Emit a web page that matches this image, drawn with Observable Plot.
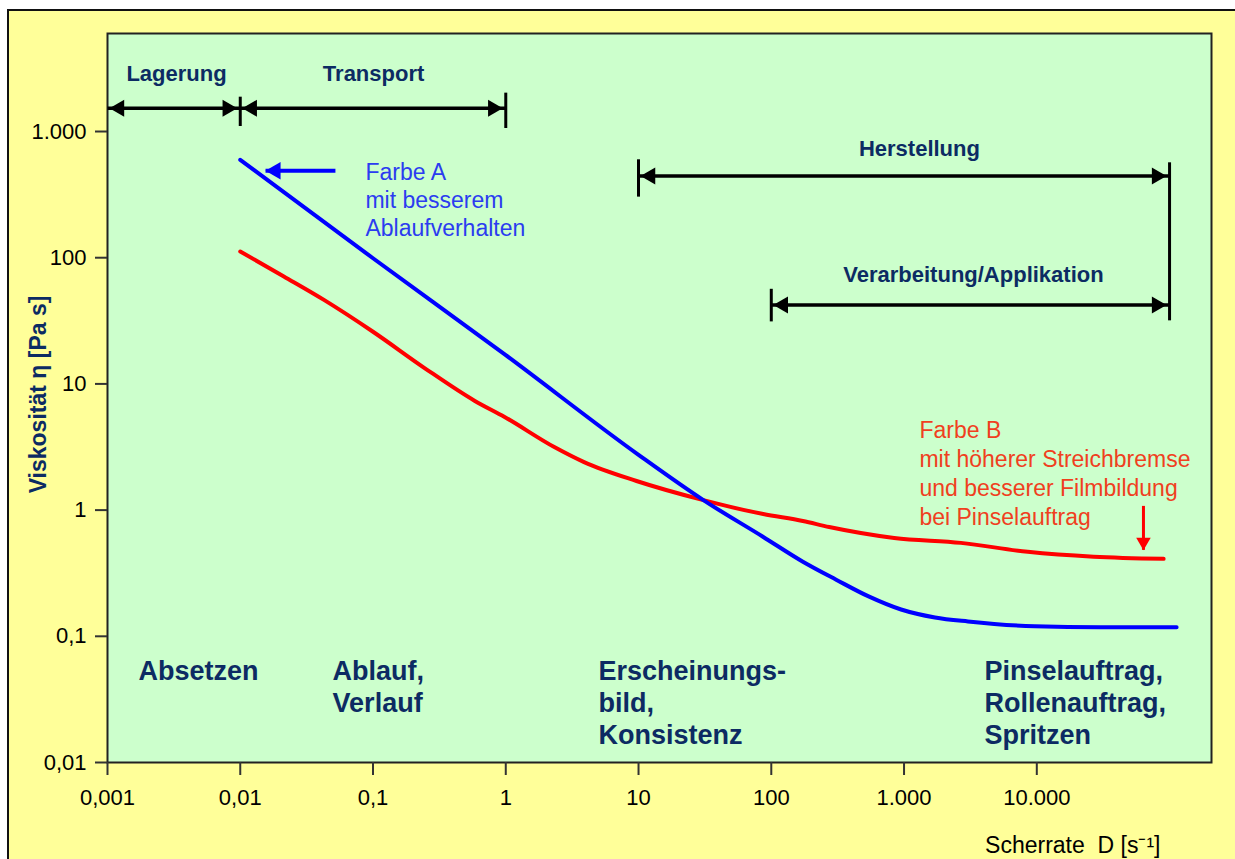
<!DOCTYPE html>
<html><head><meta charset="utf-8">
<script src="https://cdn.jsdelivr.net/npm/d3@7"></script>
<script src="https://cdn.jsdelivr.net/npm/@observablehq/plot@0.6"></script>
<style>
html,body{margin:0;padding:0;background:#fff;}
#wrap{position:relative;width:1235px;height:859px;overflow:hidden;}
#bg{position:absolute;left:7px;top:9px;right:0;bottom:0;background:#FFFF99;border-left:2px solid #111;border-top:2px solid #111;}
#chart{position:absolute;left:0;top:0;}
</style></head><body>
<div id="wrap"><div id="bg"></div><div id="chart"></div></div>
<script>
// ---- axes ----
const xTicks = [0.001, 0.01, 0.1, 1, 10, 100, 1000, 10000];
const xTickLabels = ["0,001", "0,01", "0,1", "1", "10", "100", "1.000", "10.000"];
const yTicks = [0.01, 0.1, 1, 10, 100, 1000];
const yTickLabels = ["0,01", "0,1", "1", "10", "100", "1.000"];
const xDomain = [0.001, 207000];
const yDomain = [0.01, 5980];

// ---- Farbe A (blue) ----
const shearRateA = [0.01, 0.1, 1, 10, 30.8, 87, 173, 308, 541, 950, 1710, 3030, 9660, 30300, 113000];
const viscosityA = [597, 99, 16.9, 2.74, 1.2, 0.613, 0.39, 0.281, 0.207, 0.163, 0.141, 0.131, 0.12, 0.118, 0.118];

// ---- Farbe B (red) ----
const shearRateB = [0.01, 0.0213, 0.043, 0.1, 0.246, 0.585, 0.98, 2.32, 3.89, 9.66, 30.8, 87, 173, 273, 843, 2680, 8550, 26800, 90200];
const viscosityB = [112, 71, 46.1, 25.9, 13.3, 7.33, 5.47, 3.16, 2.4, 1.7, 1.2, 0.93, 0.82, 0.735, 0.602, 0.55, 0.467, 0.427, 0.411];

// ---- process ranges (top) ----
const rangeLabels = ["Lagerung", "Transport", "Herstellung", "Verarbeitung/Applikation"];
const rangeFrom = [0.001, 0.01, 10, 100];
const rangeTo = [0.01, 1, 100000, 100000];
const rangeLevel = [1528, 1528, 445, 42.2];
const rangeLabelX = [0.00331, 0.101, 1306, 3334];
const rangeLabelY = [2512, 2512, 643, 63.8];
const barX = [0.01, 1, 10, 100000, 100];
const barTop = [1871, 2014, 597, 565, 56.2];
const barBottom = [1096, 1057, 302, 31.6, 31];

// ---- application regions (bottom) ----
const regionLabels = ["Absetzen", "Ablauf,\nVerlauf", "Erscheinungs-\nbild,\nKonsistenz", "Pinselauftrag,\nRollenauftrag,\nSpritzen"];
const regionX = [0.00171, 0.0496, 4.99, 4036];
const regionY = 0.0676;

// ---- callouts ----
const calloutA = "Farbe A\nmit besserem\nAblaufverhalten";
const calloutAPos = [0.0877, 592];
const arrowA = {x1: 0.0155, x2: 0.0521, y: 488};
const calloutB = "Farbe B\nmit höherer Streichbremse\nund besserer Filmbildung\nbei Pinselauftrag";
const calloutBPos = [1306, 5.38];
const arrowB = {x: 63600, y1: 1.08, y2: 0.484};

const navy = "#0c2b63";
const seriesA = shearRateA.map((x, i) => ({x, y: viscosityA[i]}));
const seriesB = shearRateB.map((x, i) => ({x, y: viscosityB[i]}));
const ranges = rangeLabels.map((label, i) => ({label, x1: rangeFrom[i], x2: rangeTo[i], y: rangeLevel[i], lx: rangeLabelX[i], ly: rangeLabelY[i]}));
const bars = barX.map((x, i) => ({x, y1: barTop[i], y2: barBottom[i]}));
const regions = regionLabels.map((label, i) => ({label, x: regionX[i], y: regionY}));

const headR = 6.3, headTip = 9.8, gap = 2;
const font = "'Liberation Sans', Arial, sans-serif";

const chart = Plot.plot({
  width: 1235, height: 859,
  marginLeft: 107, marginRight: 24, marginTop: 33, marginBottom: 97,
  style: {background: "transparent", fontFamily: font, overflow: "visible"},
  x: {type: "log", domain: xDomain},
  y: {type: "log", domain: yDomain},
  marks: [
    Plot.frame({fill: "#CCFFCC", stroke: "#222", strokeWidth: 2}),
    Plot.axisX({ticks: xTicks, tickFormat: d => xTickLabels[xTicks.indexOf(d)], tickSize: 13, tickPadding: 14, fontSize: 22, stroke: "#333", strokeWidth: 2, color: "black", label: null, textStroke: "none"}),
    Plot.axisY({ticks: yTicks, tickFormat: d => yTickLabels[yTicks.indexOf(d)], tickSize: 12, tickPadding: 9, fontSize: 22, stroke: "#333", strokeWidth: 2, color: "black", label: null}),
    // range arrows
    Plot.link(ranges, {x1: "x1", x2: "x2", y1: "y", y2: "y", stroke: "black", strokeWidth: 3.5}),
    Plot.dot(ranges, {x: "x1", y: "y", symbol: "triangle", r: headR, fill: "black", rotate: -90, dx: headTip + gap}),
    Plot.dot(ranges, {x: "x2", y: "y", symbol: "triangle", r: headR, fill: "black", rotate: 90, dx: -(headTip + gap + 1)}),
    Plot.ruleX(bars, {x: "x", y1: "y1", y2: "y2", stroke: "black", strokeWidth: 3}),
    Plot.text(ranges, {x: "lx", y: "ly", text: "label", lineAnchor: "bottom", fontSize: 22, fontWeight: "bold", fill: navy}),
    // curves
    Plot.line(seriesB, {x: "x", y: "y", stroke: "#FF0000", strokeWidth: 4, curve: "monotone-x"}),
    Plot.line(seriesA, {x: "x", y: "y", stroke: "#0000FF", strokeWidth: 4, curve: "monotone-x"}),
    // callout A
    Plot.link([arrowA], {x1: "x1", x2: "x2", y1: "y", y2: "y", stroke: "#0000FF", strokeWidth: 4}),
    Plot.dot([arrowA], {x: "x1", y: "y", symbol: "triangle", r: 6.5, fill: "#0000FF", rotate: -90, dx: 10}),
    Plot.text([calloutA], {x: calloutAPos[0], y: calloutAPos[1], text: d => d, textAnchor: "start", lineAnchor: "top", lineHeight: 1.22, fontSize: 23, fill: "#2b3cf0"}),
    // callout B
    Plot.link([arrowB], {x1: "x", x2: "x", y1: "y1", y2: "y2", stroke: "#FF0000", strokeWidth: 3}),
    Plot.dot([arrowB], {x: "x", y: "y2", symbol: "triangle", r: 5.4, fill: "#FF0000", rotate: 180, dy: -8}),
    Plot.text([calloutB], {x: calloutBPos[0], y: calloutBPos[1], text: d => d, textAnchor: "start", lineAnchor: "top", lineHeight: 1.25, fontSize: 23, fill: "#f0401e"}),
    // region labels
    Plot.text(regions, {x: "x", y: "y", text: "label", textAnchor: "start", lineAnchor: "top", lineHeight: 1.185, fontSize: 27, fontWeight: "bold", fill: navy}),
    // axis titles
    Plot.text(["Viskosität η [Pa s]"], {frameAnchor: "left", text: d => d, textAnchor: "middle", rotate: -90, dx: -69, dy: -3.5, fontSize: 23, fontWeight: "bold", fill: navy}),
    Plot.text(["Scherrate\u00a0\u00a0D [s\u207b\u00b9]"], {frameAnchor: "bottom-right", text: d => d, textAnchor: "end", lineAnchor: "bottom", dx: -51, dy: 90, fontSize: 23, fill: "black"})
  ]
});
document.getElementById("chart").appendChild(chart);
</script>
</body></html>
